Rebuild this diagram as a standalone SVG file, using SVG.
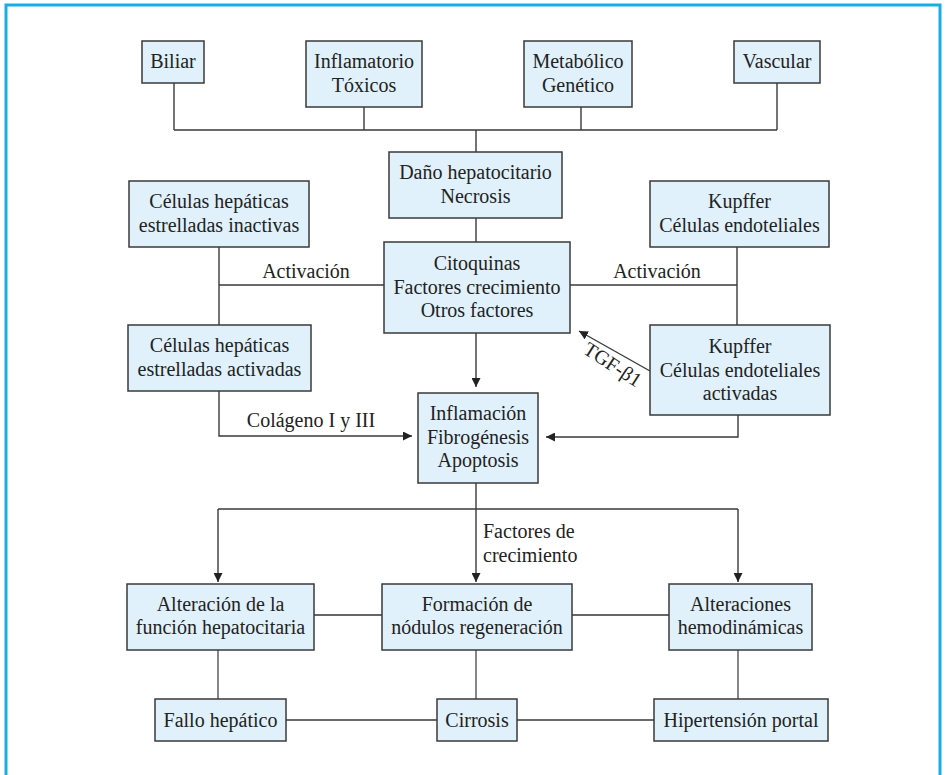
<svg xmlns="http://www.w3.org/2000/svg" width="946" height="775" viewBox="0 0 946 775">
<style>
.box{fill:#e0f1fb;stroke:#3a3a3a;stroke-width:1.5}
.t{font-family:"Liberation Serif","Times New Roman",serif;font-size:20px;fill:#222;text-anchor:middle}
.l{font-family:"Liberation Serif","Times New Roman",serif;font-size:20px;fill:#222}
.c{fill:none;stroke:#3a3a3a;stroke-width:1.4}
.frame{fill:none;stroke:#19ade5;stroke-width:3}
</style>
<defs>
<marker id="ah" viewBox="0 0 10 10" refX="10" refY="5" markerWidth="9" markerHeight="9" markerUnits="userSpaceOnUse" orient="auto">
<path d="M0,0 L10,5 L0,10 Z" fill="#222"/>
</marker>
</defs>
<rect width="946" height="775" fill="#fff"/>
<path class="frame" d="M6,775 V5 H940 V775"/>

<g id="connectors">
<path class="c" d="M174,83 V130 M364,107 V130 M581,107 V130 M777,83 V130 M174,130 H777 M476,130 V152"/>
<path class="c" d="M476,218 V242"/>
<path class="c" d="M476,333 V387" marker-end="url(#ah)"/>
<path class="c" d="M219,247 V325 M219,285 H384"/>
<path class="c" d="M737,247 V325 M570,285 H737"/>
<path class="c" d="M219,391 V436 H412" marker-end="url(#ah)"/>
<path class="c" d="M738,415 V437 H546" marker-end="url(#ah)"/>
<path class="c" d="M650,371 L579,331" marker-end="url(#ah)"/>
<path class="c" d="M476,483 V582" marker-end="url(#ah)"/>
<path class="c" d="M218,509 H738"/>
<path class="c" d="M218,509 V582" marker-end="url(#ah)"/>
<path class="c" d="M738,509 V582" marker-end="url(#ah)"/>
<path class="c" d="M314,615 H382 M572,615 H669" style="stroke:#666;stroke-width:2"/>
<path class="c" d="M218,650 V699 M476,650 V699 M738,650 V699" style="stroke:#555"/>
<path class="c" d="M286,720 H437 M517,720 H654"/>
<text class="t" x="306" y="278">Activación</text>
<text class="t" x="657" y="278">Activación</text>
<text class="t" x="311" y="427">Colágeno I y III</text>
<text class="l" x="483" y="538">Factores de</text>
<text class="l" x="483" y="562">crecimiento</text>
<text class="t" x="0" y="0" transform="translate(609,370) rotate(33)">TGF-β1</text>
</g>

<g id="biliar"><rect class="box" x="142" y="41" width="62" height="42"/><text class="t" x="173" y="68">Biliar</text></g>
<g id="inflamatorio"><rect class="box" x="306" y="41" width="116" height="66"/><text class="t" x="364" y="68">Inflamatorio</text><text class="t" x="364" y="92">Tóxicos</text></g>
<g id="metabolico"><rect class="box" x="524" y="41" width="108" height="66"/><text class="t" x="578" y="68">Metabólico</text><text class="t" x="578" y="92">Genético</text></g>
<g id="vascular"><rect class="box" x="734" y="41" width="86" height="42"/><text class="t" x="777" y="68">Vascular</text></g>

<g id="dano"><rect class="box" x="389" y="152" width="173" height="66"/><text class="t" x="475.5" y="179">Daño hepatocitario</text><text class="t" x="475.5" y="203">Necrosis</text></g>
<g id="inactivas"><rect class="box" x="129" y="181" width="180" height="66"/><text class="t" x="219" y="208">Células hepáticas</text><text class="t" x="219" y="232">estrelladas inactivas</text></g>
<g id="kupffer"><rect class="box" x="650" y="181" width="179" height="66"/><text class="t" x="739.5" y="208">Kupffer</text><text class="t" x="739.5" y="232">Células endoteliales</text></g>
<g id="citoquinas"><rect class="box" x="384" y="242" width="186" height="91"/><text class="t" x="477" y="270">Citoquinas</text><text class="t" x="477" y="294">Factores crecimiento</text><text class="t" x="477" y="317">Otros factores</text></g>
<g id="activadas"><rect class="box" x="128" y="325" width="183" height="66"/><text class="t" x="219.5" y="352">Células hepáticas</text><text class="t" x="219.5" y="376">estrelladas activadas</text></g>
<g id="kupffer-act"><rect class="box" x="650" y="325" width="180" height="90"/><text class="t" x="740" y="353">Kupffer</text><text class="t" x="740" y="377">Células endoteliales</text><text class="t" x="740" y="400">activadas</text></g>
<g id="inflamacion"><rect class="box" x="418" y="393" width="120" height="90"/><text class="t" x="478" y="420">Inflamación</text><text class="t" x="478" y="444">Fibrogénesis</text><text class="t" x="478" y="467">Apoptosis</text></g>

<g id="alteracion"><rect class="box" x="127" y="584" width="187" height="66"/><text class="t" x="220.5" y="611">Alteración de la</text><text class="t" x="220.5" y="634">función hepatocitaria</text></g>
<g id="formacion"><rect class="box" x="382" y="584" width="190" height="66"/><text class="t" x="477" y="611">Formación de</text><text class="t" x="477" y="634">nódulos regeneración</text></g>
<g id="hemodinamicas"><rect class="box" x="669" y="584" width="143" height="66"/><text class="t" x="740.5" y="611">Alteraciones</text><text class="t" x="740.5" y="634">hemodinámicas</text></g>

<g id="fallo"><rect class="box" x="155" y="699" width="131" height="42"/><text class="t" x="220.5" y="727">Fallo hepático</text></g>
<g id="cirrosis"><rect class="box" x="437" y="699" width="80" height="42"/><text class="t" x="477" y="727">Cirrosis</text></g>
<g id="hipertension"><rect class="box" x="654" y="699" width="174" height="42"/><text class="t" x="741" y="727">Hipertensión portal</text></g>
</svg>
